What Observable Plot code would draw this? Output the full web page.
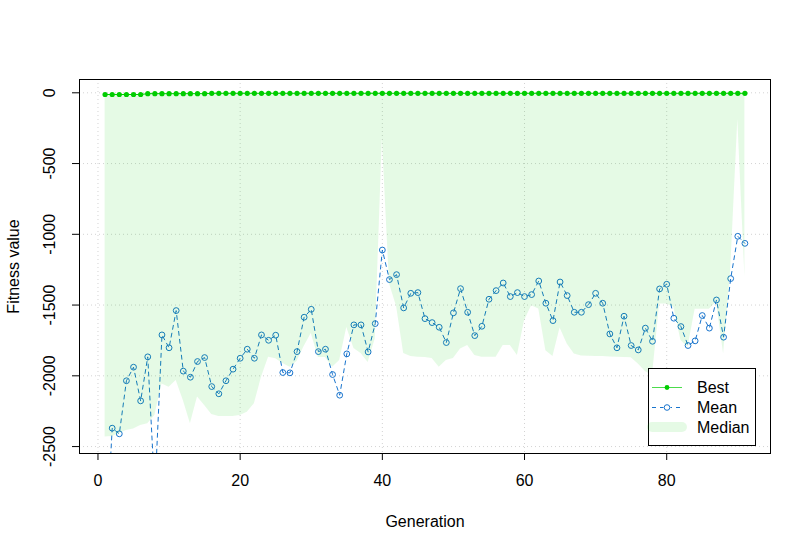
<!DOCTYPE html>
<html>
<head>
<meta charset="utf-8">
<script src="https://cdn.jsdelivr.net/npm/d3@7"></script>
<script src="https://cdn.jsdelivr.net/npm/@observablehq/plot@0.6"></script>
<style>
  body { margin: 0; background: #ffffff; }
  #wrap { position: relative; width: 810px; height: 551px; font-family: "Liberation Sans", Arial, Helvetica, sans-serif; }
  #legend { position: absolute; left: 0; top: 0; }
</style>
</head>
<body>
<div id="wrap"></div>
<script>
const generations = [1,2,3,4,5,6,7,8,9,10,11,12,13,14,15,16,17,18,19,20,
  21,22,23,24,25,26,27,28,29,30,31,32,33,34,35,36,37,38,39,40,
  41,42,43,44,45,46,47,48,49,50,51,52,53,54,55,56,57,58,59,60,
  61,62,63,64,65,66,67,68,69,70,71,72,73,74,75,76,77,78,79,80,
  81,82,83,84,85,86,87,88,89,90,91];

const bestValues = [-12,-12,-12,-12,-12,-12,-6,-6,-6,-6,-6,-6,-6,-6,-6,-3.5,-3.5,-3.5,-3.5,-3.5,
  -3.5,-3.5,-3.5,-3.5,-3.5,-3.5,-3.5,-3.5,-3.5,-3.5,-3.5,-3.5,-3.5,-3.5,-3.5,-3.5,-3.5,-3.5,-3.5,-3.5,
  -3.5,-3.5,-3.5,-3.5,-3.5,-3.5,-3.5,-3.5,-3.5,-3.5,-3.5,-3.5,-3.5,-3.5,-3.5,-3.5,-3.5,-3.5,-3.5,-3.5,
  -3.5,-3.5,-3.5,-3.5,-3.5,-3.5,-3.5,-3.5,-3.5,-3.5,-3.5,-3.5,-3.5,-3.5,-3.5,-3.5,-3.5,-3.5,-3.5,-3.5,
  -3.5,-3.5,-3.5,-3.5,-3.5,-3.5,-3.5,-3.5,-3.5,-3.5,-3.5];

const meanValues = [-3300,-2370,-2410,-2035,-1939,-2177,-1866,-2825,-1711,-1802,
  -1539,-1967,-2010,-1899,-1871,-2076,-2127,-2035,-1953,-1876,
  -1812,-1876,-1711,-1749,-1713,-1977,-1979,-1829,-1586,-1530,
  -1829,-1812,-1991,-2137,-1845,-1640,-1640,-1831,-1631,-1111,
  -1320,-1285,-1520,-1417,-1412,-1596,-1624,-1657,-1765,-1555,
  -1384,-1551,-1716,-1650,-1459,-1398,-1344,-1440,-1412,-1440,
  -1426,-1330,-1487,-1610,-1337,-1433,-1551,-1551,-1497,-1417,
  -1487,-1704,-1802,-1579,-1786,-1817,-1663,-1756,-1386,-1353,
  -1593,-1652,-1786,-1753,-1574,-1663,-1464,-1727,-1313,-1014,-1064];

const medianValues = [-2433,-2429,-2410,-2386,-2375,-2351,-2339,-2280,-2057,-2080,
  -2033,-2174,-2339,-2150,-2210,-2273,-2287,-2287,-2287,-2280,
  -2257,-2198,-2010,-1869,-1880,-1913,-1939,-1899,-1793,-1701,
  -1871,-1871,-1939,-1892,-1659,-1807,-1843,-1906,-1740,-320,
  -1350,-1510,-1843,-1864,-1869,-1871,-1878,-1939,-1892,-1878,
  -1810,-1786,-1857,-1869,-1869,-1869,-1786,-1786,-1857,-1610,
  -1504,-1527,-1822,-1864,-1662,-1775,-1846,-1860,-1862,-1864,
  -1864,-1867,-1869,-1871,-1873,-1916,-1970,-2000,-1492,-1492,
  -1516,-1751,-1798,-1529,-1529,-1529,-1480,-1846,-1250,-190,-1304];

const xTicks = [0, 20, 40, 60, 80];
const yTicks = [0, -500, -1000, -1500, -2000, -2500];
const legendLabels = ["Best", "Mean", "Median"];

const GREEN = "#00CD00";
const BLUE = "#1874CD";

const rows = generations.map((g, i) => ({
  gen: g, best: bestValues[i], mean: meanValues[i], median: medianValues[i]
}));

const chart = Plot.plot({
  width: 810,
  height: 551,
  marginLeft: 79,
  marginRight: 40,
  marginTop: 79,
  marginBottom: 98,
  style: { fontFamily: "'Liberation Sans', Arial, Helvetica, sans-serif", fontSize: "16px", background: "#ffffff", color: "#000000" },
  x: { domain: [-2.6, 94.6] },
  y: { domain: [-2549, 94] },
  marks: [
    Plot.gridX(xTicks, { stroke: "#d3d3d3", strokeOpacity: 1, strokeDasharray: "1,3" }),
    Plot.gridY(yTicks, { stroke: "#d3d3d3", strokeOpacity: 1, strokeDasharray: "1,3" }),
    Plot.line(rows, { x: "gen", y: "best", stroke: GREEN, strokeWidth: 1, clip: true }),
    Plot.dot(rows, { x: "gen", y: "best", r: 2.6, fill: GREEN, stroke: "none", clip: true }),
    Plot.line(rows, { x: "gen", y: "mean", stroke: BLUE, strokeWidth: 1, strokeDasharray: "4,4", clip: true }),
    Plot.dot(rows, { x: "gen", y: "mean", r: 2.9, fill: "none", stroke: BLUE, strokeWidth: 1, clip: true }),
    Plot.areaY(rows, { x: "gen", y1: "median", y2: "best", fill: GREEN, fillOpacity: 0.1, clip: true }),
    Plot.frame({ stroke: "#000000", strokeWidth: 1 }),
    Plot.axisX(xTicks, {
      anchor: "bottom", tickSize: 7, tickPadding: 14, fontSize: 16,
      tickFormat: d => String(d),
      label: "Generation", labelAnchor: "center", labelArrow: "none", labelOffset: 73
    }),
    Plot.axisY(yTicks, {
      anchor: "left", tickSize: 7, tickRotate: -90, tickPadding: 18, fontSize: 16,
      tickFormat: d => String(d),
      label: "Fitness value", labelAnchor: "center", labelArrow: "none", labelOffset: 72
    })
  ]
});

const wrap = document.getElementById("wrap");
wrap.appendChild(chart);

// Legend (inside the plot area, bottom right, like R's legend box)
const lg = d3.select(wrap).append("svg")
  .attr("id", "legend")
  .attr("width", 810).attr("height", 551)
  .style("font-family", "'Liberation Sans', Arial, Helvetica, sans-serif")
  .style("pointer-events", "none");

const bx = 648.5, by = 368.5, bw = 107, bh = 77;
lg.append("rect").attr("x", bx).attr("y", by).attr("width", bw).attr("height", bh)
  .attr("fill", "#ffffff").attr("stroke", "#000000").attr("stroke-width", 1);

const rowY = [387.5, 407.5, 427];
const lx1 = 652, lx2 = 682, px = 667;
// Best
lg.append("line").attr("x1", lx1).attr("x2", lx2).attr("y1", rowY[0]).attr("y2", rowY[0])
  .attr("stroke", GREEN).attr("stroke-width", 1).attr("stroke-opacity", 0.7);
lg.append("circle").attr("cx", px).attr("cy", rowY[0]).attr("r", 2.4).attr("fill", GREEN);
// Mean
lg.append("line").attr("x1", lx1).attr("x2", lx2).attr("y1", rowY[1]).attr("y2", rowY[1])
  .attr("stroke", BLUE).attr("stroke-width", 1).attr("stroke-dasharray", "4,4");
lg.append("circle").attr("cx", px).attr("cy", rowY[1]).attr("r", 3.5).attr("fill", "#ffffff");
lg.append("circle").attr("cx", px).attr("cy", rowY[1]).attr("r", 2.8).attr("fill", "none")
  .attr("stroke", BLUE).attr("stroke-width", 1);
// Median
lg.append("line").attr("x1", lx1).attr("x2", lx2).attr("y1", rowY[2]).attr("y2", rowY[2])
  .attr("stroke", GREEN).attr("stroke-opacity", 0.1).attr("stroke-width", 10).attr("stroke-linecap", "round");

legendLabels.forEach((t, i) => {
  lg.append("text").attr("x", 697).attr("y", rowY[i]).attr("dy", "0.35em")
    .attr("font-size", 16).attr("fill", "#000000").text(t);
});
</script>
</body>
</html>
